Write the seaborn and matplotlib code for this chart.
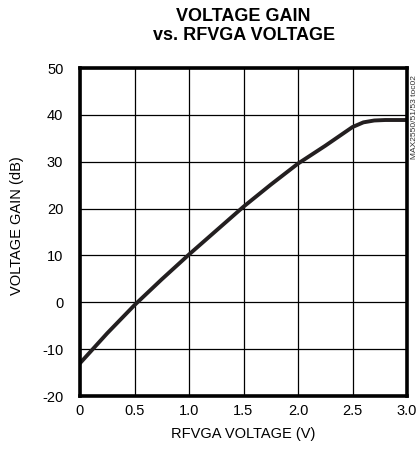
import numpy as np
import pandas as pd
import seaborn as sns
import matplotlib.pyplot as plt

# Curve values
rfvga_voltage = [0.0, 0.25, 0.5, 0.75, 1.0, 1.25, 1.5, 1.75, 2.0, 2.25, 2.5, 2.6, 2.7, 2.8, 2.9, 3.0]
voltage_gain = [-13.0, -6.6, -0.6, 4.9, 10.2, 15.3, 20.4, 25.1, 29.6, 33.4, 37.4, 38.4, 38.8, 38.9, 38.9, 38.9]

x_ticks = [0, 0.5, 1.0, 1.5, 2.0, 2.5, 3.0]
x_labels = ['0', '0.5', '1.0', '1.5', '2.0', '2.5', '3.0']
y_ticks = [-20, -10, 0, 10, 20, 30, 40, 50]

df = pd.DataFrame({'v': rfvga_voltage, 'gain': voltage_gain})

sns.set_style('white')
plt.rcParams['font.family'] = ['Liberation Sans', 'DejaVu Sans']
plt.rcParams['axes.unicode_minus'] = False
plt.rcParams['text.color'] = 'black'
plt.rcParams['axes.labelcolor'] = 'black'
plt.rcParams['xtick.color'] = 'black'
plt.rcParams['ytick.color'] = 'black'

fig = plt.figure(figsize=(4.18, 4.57), dpi=100)
ax = fig.add_axes([80 / 418, 61 / 457, 327 / 418, 328 / 457])

sns.lineplot(data=df, x='v', y='gain', ax=ax, color='#231f20', linewidth=2.8)

ax.set_xlim(0, 3.0)
ax.set_ylim(-20, 50)
ax.set_xticks(x_ticks)
ax.set_xticklabels(x_labels)
ax.set_yticks(y_ticks)
ax.grid(True, color='black', linewidth=0.9)
ax.tick_params(length=0, labelsize=10.5)
ax.tick_params(axis='y', pad=12)
ax.tick_params(axis='x', pad=6)
for s in ax.spines.values():
    s.set_linewidth(2.6)
    s.set_color('black')

ax.set_xlabel('RFVGA VOLTAGE (V)', fontsize=10.5, labelpad=6)
ax.set_ylabel('VOLTAGE GAIN (dB)', fontsize=10.5)
ax.yaxis.set_label_coords(-0.172, 0.52)

fig.text(0.583, 0.983, 'VOLTAGE GAIN\nvs. RFVGA VOLTAGE', ha='center', va='top',
         fontsize=13, fontweight='bold', linespacing=1.15)
fig.text(0.9915, 0.744, 'MAX2550/51/53 toc02', rotation=90, ha='center', va='center',
         fontsize=6, color='#333333')

plt.savefig('out.png', dpi=100)
